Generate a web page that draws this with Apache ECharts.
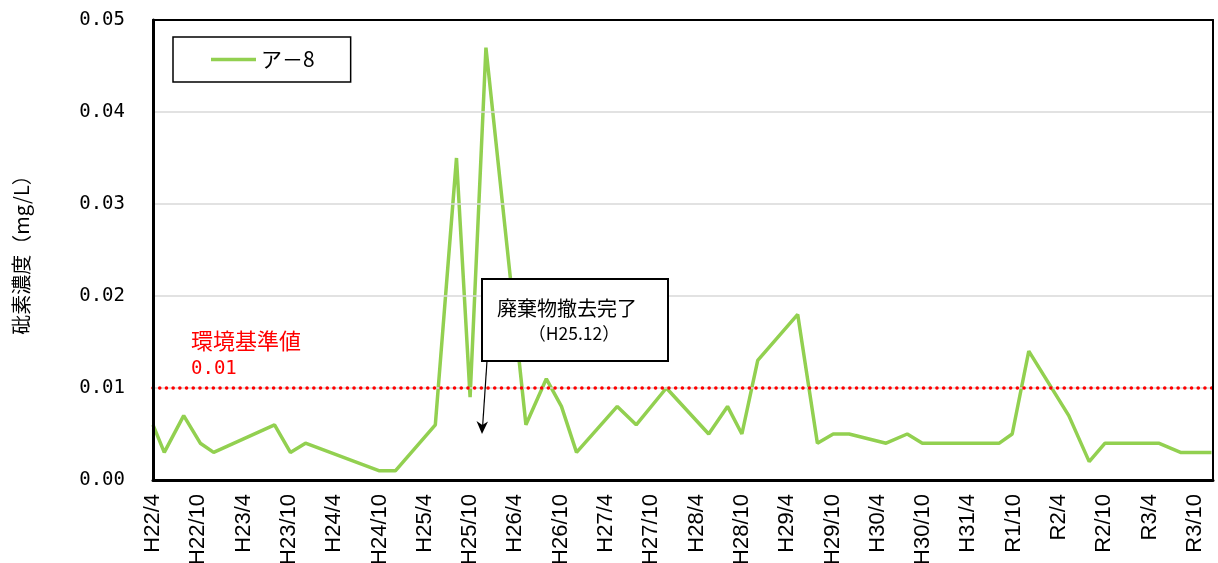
<!DOCTYPE html>
<html>
<head>
<meta charset="utf-8">
<script src="https://cdn.jsdelivr.net/npm/echarts@6/dist/echarts.min.js"></script>
<style>
  html, body { margin: 0; padding: 0; background: #fff; }
  #chart { width: 1218px; height: 563px; }
</style>
</head>
<body>
<div id="chart"></div>
<script>
// Sampling dates and arsenic concentration (mg/L) for well ア-8
const sampleDates = [
  "2010-04-15", "2010-05-30", "2010-08-17", "2010-10-23", "2010-12-16",
  "2011-08-18", "2011-10-21", "2011-12-21", "2012-10-15", "2012-12-18",
  "2013-05-27", "2013-08-21", "2013-10-15", "2013-12-18", "2014-05-27",
  "2014-08-18", "2014-10-18", "2014-12-18", "2015-05-30", "2015-08-15",
  "2015-12-15", "2016-06-03", "2016-08-18", "2016-10-15", "2016-12-18",
  "2017-05-27", "2017-08-15", "2017-10-18", "2017-12-21", "2018-05-18",
  "2018-08-12", "2018-10-12", "2019-08-18", "2019-10-09", "2019-12-15",
  "2020-05-24", "2020-08-15", "2020-10-18", "2021-05-21", "2021-08-18",
  "2021-12-21",
];
const arsenicValues = [
  0.006, 0.003, 0.007, 0.004, 0.003,
  0.006, 0.003, 0.004, 0.001, 0.001,
  0.006, 0.035, 0.009, 0.047, 0.006,
  0.011, 0.008, 0.003, 0.008, 0.006,
  0.010, 0.005, 0.008, 0.005, 0.013,
  0.018, 0.004, 0.005, 0.005, 0.004,
  0.005, 0.004, 0.004, 0.005, 0.014,
  0.007, 0.002, 0.004, 0.004, 0.003,
  0.003,
];
// Every 6 months from the first sample
const tickLabels = [
  "H22/4", "H22/10", "H23/4", "H23/10", "H24/4", "H24/10",
  "H25/4", "H25/10", "H26/4", "H26/10", "H27/4", "H27/10",
  "H28/4", "H28/10", "H29/4", "H29/10", "H30/4", "H30/10",
  "H31/4", "R1/10", "R2/4", "R2/10", "R3/4", "R3/10",
];
const STANDARD_VALUE = 0.01; // 環境基準値
const X_MAX = 140.4; // months shown after first sample

// months elapsed since the first sample (2010-04-15)
function monthsFrom(dateStr) {
  const [y, mo, d] = dateStr.split("-").map(Number);
  return (y - 2010) * 12 + (mo - 4) + (d - 15) / 30.4;
}

const seriesData = sampleDates.map((d, i) => [monthsFrom(d), arsenicValues[i]]);

const chart = echarts.init(document.getElementById("chart"));
const jpFont = "'Noto Sans CJK JP', sans-serif";

// Plain frame axes for the top and right edges of the plot area
const frameAxis = {
  type: "value",
  axisLine: { show: true, onZero: false, lineStyle: { color: "#000", width: 2 } },
  axisTick: { show: false },
  axisLabel: { show: false },
  splitLine: { show: false },
};

chart.setOption({
  animation: false,
  backgroundColor: "#fff",
  grid: {
    left: 153,
    right: 5,
    top: 20,
    bottom: 83,
    outerBoundsMode: "none",
    containLabel: false,
  },
  legend: {
    left: 173,
    top: 37,
    padding: [12, 36, 12, 38],
    itemWidth: 45,
    itemHeight: 3.5,
    icon: "rect",
    borderColor: "#000",
    borderWidth: 1.5,
    backgroundColor: "#fff",
    textStyle: { fontFamily: jpFont, fontSize: 21, color: "#000" },
    data: ["ア－8"],
  },
  xAxis: [
    {
      type: "value",
      min: 0,
      max: X_MAX,
      interval: 6,
      axisLine: { onZero: false, lineStyle: { color: "#000", width: 3 } },
      axisTick: { show: false },
      splitLine: { show: false },
      axisLabel: {
        rotate: 90,
        margin: 14,
        showMaxLabel: false,
        color: "#000",
        fontFamily: "'Liberation Sans Narrow', 'Liberation Sans', sans-serif",
        fontSize: 22,
        formatter: v => {
          const k = Math.round(v / 6);
          return Math.abs(v - k * 6) < 1e-6 ? (tickLabels[k] || "") : "";
        },
      },
      z: 5,
    },
    Object.assign({ position: "top", min: 0, max: X_MAX, z: 5 }, frameAxis),
  ],
  yAxis: [
    {
      type: "value",
      min: 0,
      max: 0.05,
      interval: 0.01,
      name: "砒素濃度（mg/L）",
      nameLocation: "middle",
      nameGap: 122,
      nameTextStyle: { fontFamily: jpFont, fontSize: 20, color: "#000" },
      axisLine: { show: true, onZero: false, lineStyle: { color: "#000", width: 3 } },
      axisTick: { show: false },
      splitLine: { lineStyle: { color: "#d9d9d9", width: 1.5 } },
      axisLabel: {
        margin: 28,
        color: "#000",
        fontFamily: "'DejaVu Sans Mono', monospace",
        fontSize: 19,
        formatter: v => v.toFixed(2),
      },
      z: 5,
    },
    Object.assign({ position: "right", min: 0, max: 0.05, z: 5 }, frameAxis),
  ],
  series: [
    {
      name: "ア－8",
      type: "line",
      data: seriesData,
      symbol: "none",
      lineStyle: { color: "#92d050", width: 3.5 },
      itemStyle: { color: "#92d050" },
      markLine: {
        silent: true,
        symbol: "none",
        label: { show: false },
        lineStyle: { color: "#ff0000", width: 3.5, type: [0.1, 6.6], cap: "round" },
        data: [{ yAxis: STANDARD_VALUE }],
      },
      z: 3,
    },
  ],
  graphic: [
    // standard value note
    {
      type: "text",
      left: 191,
      top: 330,
      style: { text: "環境基準値", fill: "#ff0000", font: "22px 'Noto Sans CJK JP'" },
    },
    {
      type: "text",
      left: 191,
      top: 360,
      style: { text: "0.01", fill: "#ff0000", font: "19px 'DejaVu Sans Mono'" },
    },
    // callout for waste removal
    {
      type: "rect",
      shape: { x: 482, y: 279, width: 186, height: 82 },
      style: { fill: "#fff", stroke: "#000", lineWidth: 2 },
      z: 10,
    },
    {
      type: "text",
      x: 567,
      y: 308,
      style: {
        text: "廃棄物撤去完了",
        fill: "#000",
        font: "20px 'Noto Sans CJK JP'",
        align: "center",
        verticalAlign: "middle",
      },
      z: 11,
    },
    {
      type: "text",
      x: 574,
      y: 333,
      style: {
        text: "（H25.12）",
        fill: "#000",
        font: "17.5px 'Noto Sans CJK JP'",
        align: "center",
        verticalAlign: "middle",
      },
      z: 11,
    },
    {
      type: "line",
      shape: { x1: 487, y1: 361, x2: 482.5, y2: 428 },
      style: { stroke: "#000", lineWidth: 1.2 },
      z: 10,
    },
    {
      type: "polygon",
      shape: { points: [[482, 434], [476.5, 421], [482.3, 425], [488, 421.5]] },
      style: { fill: "#000" },
      z: 10,
    },
  ],
});
</script>
</body>
</html>
